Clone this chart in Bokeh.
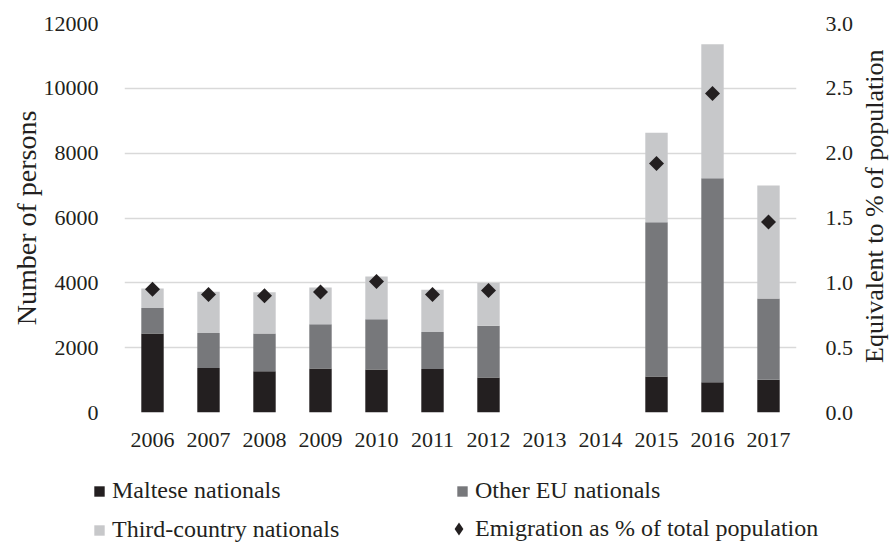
import math
from bokeh.plotting import figure
from bokeh.layouts import column, row
from bokeh.models import (ColumnDataSource, FactorRange, Range1d, LinearAxis, Legend,
                          LegendItem, SingleIntervalTicker, PrintfTickFormatter, Label)
from bokeh.embed import file_html
from bokeh.resources import INLINE

# ---- data ----
years = ["2006", "2007", "2008", "2009", "2010", "2011", "2012",
         "2013", "2014", "2015", "2016", "2017"]
maltese = [2440, 1370, 1270, 1360, 1330, 1340, 1080, 0, 0, 1110, 930, 1010]
other_eu = [785, 1080, 1165, 1360, 1545, 1145, 1595, 0, 0, 4760, 6300, 2510]
third_country = [600, 1275, 1275, 1135, 1320, 1305, 1320, 0, 0, 2760, 4130, 3480]
emigration_pct = [0.95, 0.91, 0.90, 0.93, 1.01, 0.91, 0.94, float("nan"), float("nan"),
                  1.92, 2.46, 1.47]

series_names = ["Maltese nationals", "Other EU nationals", "Third-country nationals"]
pct_name = "Emigration as % of total population"
left_title = "Number of persons"
right_title = "Equivalent to % of population"

# ---- styles ----
FONT = "Liberation Serif"
TXT = "#231f20"
C_MALTESE = "#231f20"
C_EU = "#77787b"
C_THIRD = "#c7c8ca"
GRID = "#d9d9d9"

MAIN_W, MAIN_H = 856, 462
RL_W = 36
LEG_H = 83

src = ColumnDataSource(dict(year=years, maltese=maltese, other_eu=other_eu,
                            third=third_country, pct=emigration_pct))

p = figure(x_range=FactorRange(*years), y_range=Range1d(0, 12000),
           width=MAIN_W, height=MAIN_H, output_backend="svg", toolbar_location=None,
           min_border_left=124, min_border_right=54, min_border_top=23,
           min_border_bottom=50)
p.extra_y_ranges = {"pct": Range1d(0, 3)}
p.outline_line_color = None

p.vbar_stack(["maltese", "other_eu", "third"], x="year", width=0.4, source=src,
             fill_color=[C_MALTESE, C_EU, C_THIRD], line_color=None)

p.scatter(x="year", y="pct", source=src, y_range_name="pct", marker="square",
          angle=math.pi / 4, size=10.6, fill_color=C_MALTESE, line_color=None)

p.xgrid.grid_line_color = None
p.ygrid.grid_line_color = GRID
p.ygrid.grid_line_width = 1.5
p.yaxis[0].ticker = SingleIntervalTicker(interval=2000)

raxis = LinearAxis(y_range_name="pct", ticker=SingleIntervalTicker(interval=0.5),
                   formatter=PrintfTickFormatter(format="%.1f"))
p.add_layout(raxis, "right")

for ax in [p.xaxis[0], p.yaxis[0], raxis]:
    ax.axis_line_color = None
    ax.major_tick_line_color = None
    ax.minor_tick_line_color = None
    ax.major_label_text_font = FONT
    ax.major_label_text_font_size = "22px"
    ax.major_label_text_color = TXT
    ax.axis_label_text_font = FONT
    ax.axis_label_text_font_size = "28px"
    ax.axis_label_text_font_style = "normal"
    ax.axis_label_text_color = TXT

p.xaxis[0].major_label_standoff = 14
p.yaxis[0].major_label_standoff = 20
p.yaxis[0].axis_label = left_title
p.yaxis[0].axis_label_standoff = -1
raxis.major_label_standoff = 23

# right-hand axis title (reads bottom-to-top)
rl = figure(width=RL_W, height=MAIN_H, x_range=Range1d(0, RL_W), y_range=Range1d(0, MAIN_H),
            output_backend="svg", toolbar_location=None, x_axis_type=None,
            y_axis_type=None, min_border=0, outline_line_color=None)
rl.grid.visible = False
rl.add_layout(Label(x=17.5, y=MAIN_H - 217, text=right_title, angle=math.pi / 2,
                    text_align="center", text_baseline="middle", text_font=FONT,
                    text_font_size="26px", text_color=TXT))

# legend strip
lg = figure(width=MAIN_W + RL_W, height=LEG_H, x_range=Range1d(0, 1), y_range=Range1d(0, 1),
            output_backend="svg", toolbar_location=None, x_axis_type=None,
            y_axis_type=None, min_border=0, outline_line_color=None)
lg.grid.visible = False
# proxy glyphs kept outside the visible range; they only feed the legend swatches
d_m = lg.scatter(x=[-5], y=[-5], marker="square", fill_color=C_MALTESE, line_color=None)
d_e = lg.scatter(x=[-5], y=[-5], marker="square", fill_color=C_EU, line_color=None)
d_t = lg.scatter(x=[-5], y=[-5], marker="square", fill_color=C_THIRD, line_color=None)
d_p = lg.scatter(x=[-5], y=[-5], marker="diamond", fill_color=C_MALTESE, line_color=None)


def make_legend(label, rend, loc, glyph=26, standoff=0):
    return Legend(items=[LegendItem(label=label, renderers=[rend])], location=loc,
                  orientation="vertical", glyph_width=glyph, glyph_height=glyph,
                  label_height=glyph, padding=0, margin=0, border_line_color=None,
                  background_fill_alpha=0, label_standoff=standoff,
                  label_text_font=FONT, label_text_font_size="24px",
                  label_text_color=TXT)


lg.add_layout(make_legend(series_names[0], d_m, (86, 41)))
lg.add_layout(make_legend(series_names[2], d_t, (86, 2)))
lg.add_layout(make_legend(series_names[1], d_e, (449, 41)))
lg.add_layout(make_legend(pct_name, d_p, (442, 0), glyph=33, standoff=0))

layout = column(row(p, rl), lg)
open("out.html", "w").write(file_html(layout, INLINE))
